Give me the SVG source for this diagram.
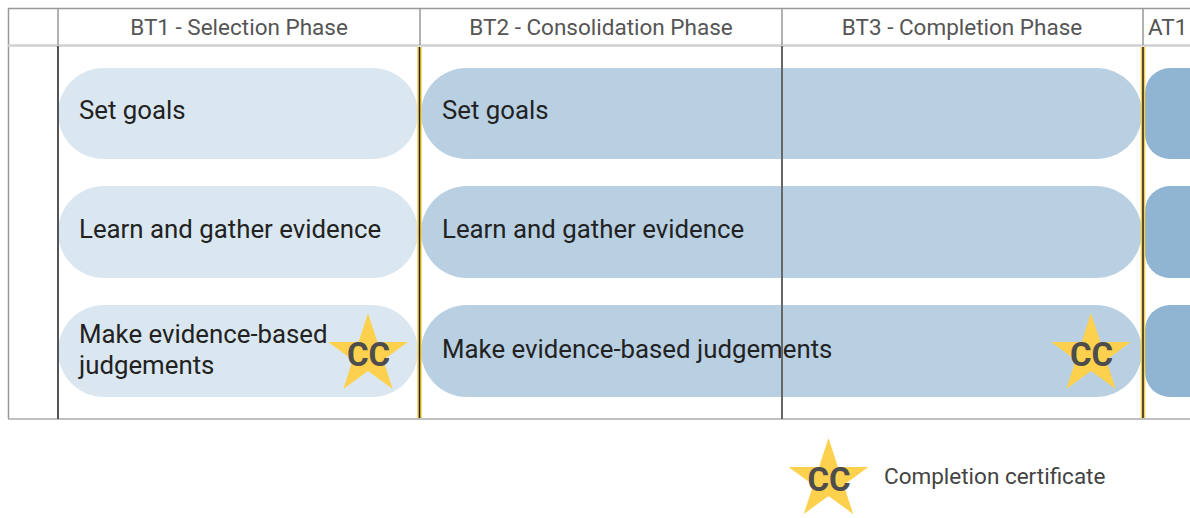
<svg xmlns="http://www.w3.org/2000/svg" width="1190" height="518" viewBox="0 0 1190 518">
<style>
.hdr{font-family:Roboto,"Liberation Sans",sans-serif;font-size:22.5px;fill:#555;}
.lbl{font-family:Roboto,"Liberation Sans",sans-serif;font-size:25.8px;fill:#222;}
.cc{font-family:Roboto,"Liberation Sans",sans-serif;font-size:33px;font-weight:bold;fill:#4d4d4d;text-anchor:middle;}
.leg{font-family:Roboto,"Liberation Sans",sans-serif;font-size:22.5px;fill:#444;}
.p1{fill:#dae7f0;}
.p2{fill:#b9d0e3;}
.p3{fill:#8fb5d3;}
.star{fill:#fdd14e;}
.gl{stroke:#999;stroke-width:1.5;fill:none;}
.dk{stroke:#555;stroke-width:2;}
.yl{stroke:#f7cf4a;stroke-width:4.5;}
.yc{stroke:#222;stroke-width:1.5;}
</style>
<defs>
<path id="st" d="M0,-42 L9.43,-12.98 L39.94,-12.98 L15.26,4.96 L24.69,33.98 L0,16.05 L-24.69,33.98 L-15.26,4.96 L-39.94,-12.98 L-9.43,-12.98 Z"/>
</defs>
<rect width="1190" height="518" fill="#fff"/>

<g id="headers">
<text class="hdr" x="239" y="35" text-anchor="middle">BT1 - Selection Phase</text>
<text class="hdr" x="601" y="35" text-anchor="middle">BT2 - Consolidation Phase</text>
<text class="hdr" x="962" y="35" text-anchor="middle">BT3 - Completion Phase</text>
<text class="hdr" x="1148" y="35">AT1</text>
</g>

<g id="bt1-set-goals">
<rect class="p1" x="58" y="68" width="360" height="91" rx="45.5"/>
<text class="lbl" x="79" y="119">Set goals</text>
</g>
<g id="bt1-learn">
<rect class="p1" x="58" y="186" width="360" height="92" rx="46"/>
<text class="lbl" x="79" y="238">Learn and gather evidence</text>
</g>
<g id="bt1-judge">
<rect class="p1" x="58" y="305" width="360" height="92" rx="46"/>
<text class="lbl" x="79" y="343">Make evidence-based</text>
<text class="lbl" x="79" y="374">judgements</text>
<use href="#st" class="star" x="368" y="355"/>
<text class="cc" x="368.5" y="366">CC</text>
</g>

<g id="bt2-set-goals">
<rect class="p2" x="421" y="68" width="721" height="91" rx="45.5"/>
<text class="lbl" x="442" y="119">Set goals</text>
</g>
<g id="bt2-learn">
<rect class="p2" x="421" y="186" width="721" height="92" rx="46"/>
<text class="lbl" x="442" y="238">Learn and gather evidence</text>
</g>
<g id="bt2-judge">
<rect class="p2" x="421" y="305" width="721" height="92" rx="46"/>
<text class="lbl" x="442" y="358">Make evidence-based judgements</text>
<use href="#st" class="star" x="1091" y="355"/>
<text class="cc" x="1091.5" y="366">CC</text>
</g>

<g id="at1-1"><rect class="p3" x="1145" y="68" width="80" height="91" rx="25"/></g>
<g id="at1-2"><rect class="p3" x="1145" y="186" width="80" height="92" rx="25"/></g>
<g id="at1-3"><rect class="p3" x="1145" y="305" width="80" height="92" rx="25"/></g>

<g id="connectors">
<line class="gl" x1="8" y1="8.5" x2="1190" y2="8.5"/>
<line class="gl" x1="8.5" y1="8" x2="8.5" y2="419"/>
<line x1="8" y1="45.5" x2="1190" y2="45.5" stroke="#d0d0d0" stroke-width="2.5"/>
<line x1="8" y1="419" x2="1190" y2="419" stroke="#aaa" stroke-width="1.5"/>
<line class="gl" x1="58" y1="8" x2="58" y2="45"/>
<line class="gl" x1="420" y1="8" x2="420" y2="45"/>
<line class="gl" x1="782" y1="8" x2="782" y2="45"/>
<line class="gl" x1="1143" y1="8" x2="1143" y2="45"/>
<line class="dk" x1="58" y1="46" x2="58" y2="419"/>
<line x1="782" y1="46" x2="782" y2="419" stroke="#666" stroke-width="2"/>
<line class="yl" x1="419.5" y1="47" x2="419.5" y2="418"/>
<line class="yc" x1="419.5" y1="47" x2="419.5" y2="418"/>
<line class="yl" x1="1143" y1="47" x2="1143" y2="418"/>
<line class="yc" x1="1143" y1="47" x2="1143" y2="418"/>
</g>

<g id="legend">
<use href="#st" class="star" x="828.5" y="480"/>
<text class="cc" x="829" y="491">CC</text>
<text class="leg" x="884" y="484">Completion certificate</text>
</g>
</svg>
